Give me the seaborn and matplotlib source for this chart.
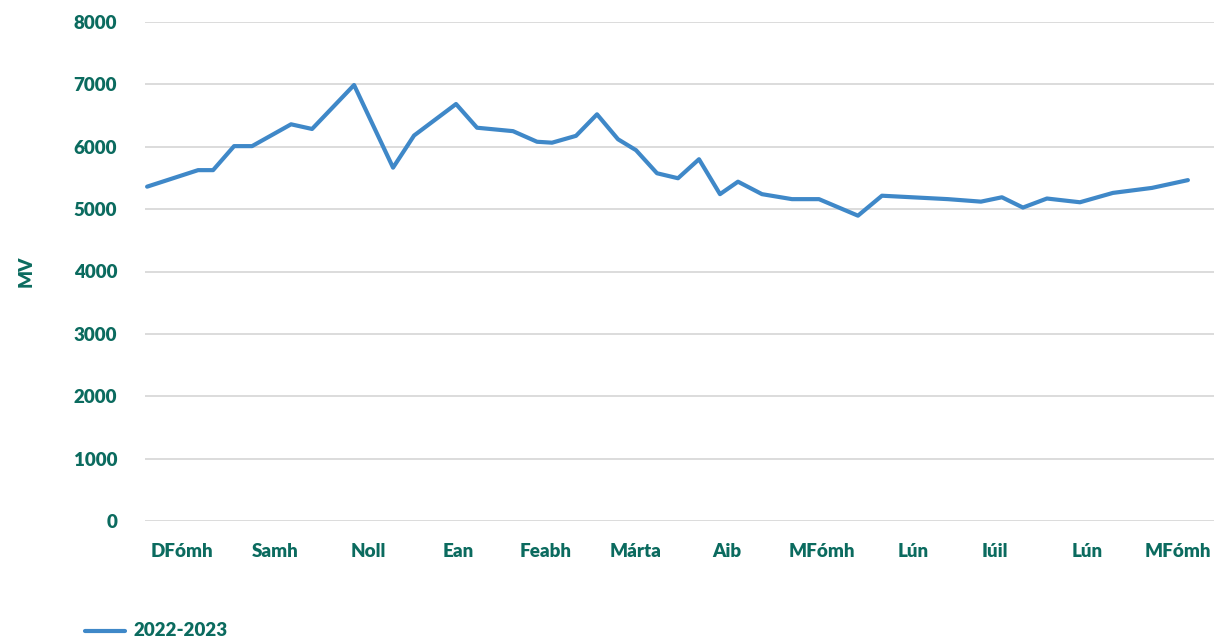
import matplotlib.pyplot as plt
import pandas as pd
import seaborn as sns

# Data (days since start of season, MV values)
days = [0, 17, 22, 29, 35, 48, 55, 69, 82, 89, 103, 110, 122, 130, 135, 143, 150,
        157, 163, 170, 177, 184, 191, 197, 205, 215, 224, 237, 245, 267, 278, 285,
        292, 300, 311, 322, 335, 347]
mv = [5360, 5625, 5625, 6010, 6010, 6360, 6285, 6990, 5665, 6180, 6685, 6305, 6250,
      6080, 6065, 6175, 6520, 6120, 5945, 5575, 5495, 5800, 5240, 5440, 5240, 5160,
      5160, 4895, 5215, 5160, 5120, 5190, 5025, 5170, 5110, 5260, 5340, 5465]
tick_days = [11.7, 42.7, 73.7, 103.7, 133, 163, 193.3, 225, 255.3, 282.7, 313.3, 343.7]
tick_labels = ['DFómh', 'Samh', 'Noll', 'Ean', 'Feabh', 'Márta', 'Aib', 'MFómh',
               'Lún', 'Iúil', 'Lún', 'MFómh']
series_name = '2022-2023'

df = pd.DataFrame({'day': days, 'MV': mv, 'season': series_name})

sns.set_style('white')
plt.rcParams['font.family'] = ['Lato', 'DejaVu Sans']
teal = '#0b6b5f'
fs = 13.5

fig = plt.figure(figsize=(12.14, 6.42), dpi=100)
ax = fig.add_axes([145 / 1214, 1 - 521 / 642, 1 - 145 / 1214, (521 - 22) / 642])

sns.lineplot(data=df, x='day', y='MV', hue='season', palette=['#3f88c8'],
             linewidth=3.0, ax=ax, legend=False)

ax.set_xlim(-0.7, 355.7)
ax.set_ylim(0, 8000)
ax.set_yticks(range(0, 8001, 1000))
ax.set_xticks(tick_days)
ax.set_xticklabels(tick_labels)
ax.yaxis.grid(True, color='#d9d9d9', linewidth=1.3)
ax.set_axisbelow(True)
for s in ax.spines.values():
    s.set_visible(False)
ax.tick_params(axis='x', length=0, pad=16, labelsize=fs, labelcolor=teal)
ax.tick_params(axis='y', length=0, pad=20, labelsize=fs, labelcolor=teal)
for lbl in ax.get_xticklabels() + ax.get_yticklabels():
    lbl.set_fontweight('heavy')
ax.set_xlabel('')
ax.set_ylabel('MV', fontsize=fs, fontweight='heavy', color=teal)
ax.yaxis.set_label_coords(-110 / 1069, 0.5)

# legend at bottom-left
fig.lines.append(plt.Line2D([85 / 1214, 125 / 1214], [1 - 631 / 642] * 2,
                            transform=fig.transFigure, color='#3f88c8', linewidth=3.0))
fig.text(133 / 1214, 1 - 631 / 642, series_name, color=teal, fontsize=fs,
         fontweight='heavy', va='center', ha='left')

fig.savefig('out.png', dpi=100)
